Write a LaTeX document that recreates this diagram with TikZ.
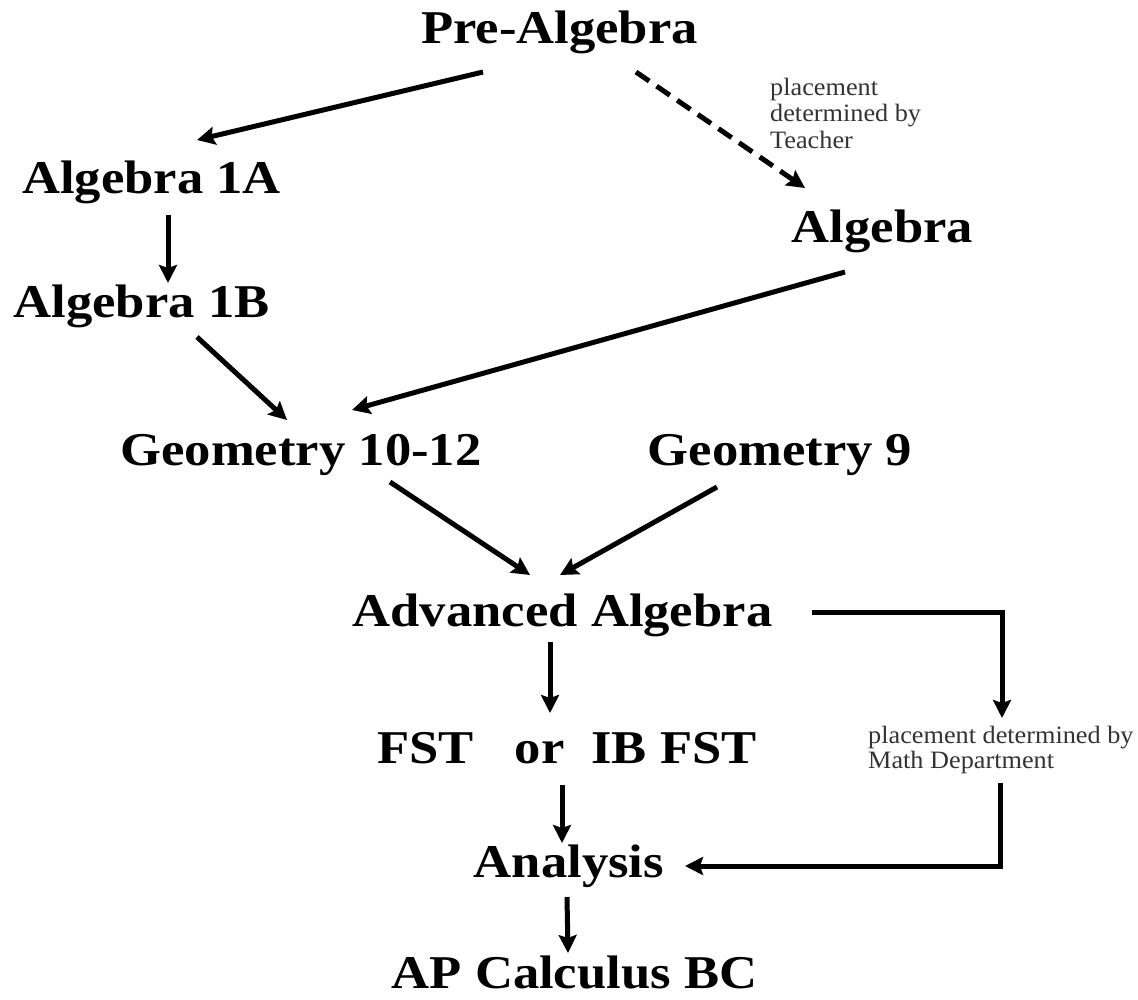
\documentclass[tikz,border=0pt]{standalone}
\usepackage{fontspec}
\setmainfont{Liberation Serif}[FakeStretch=1.12]
\newfontfamily\notefont{Liberation Serif}[FakeStretch=1.05]
\usetikzlibrary{arrows.meta,calc}
\begin{document}
\begin{tikzpicture}[x=1pt,y=-1pt,
    course/.style={inner sep=0pt,anchor=base,font=\fontsize{47}{50}\selectfont\bfseries},
    note/.style={inner sep=0pt,anchor=base west,align=left,text=black!80,
      font=\notefont\fontsize{25}{26.5}\selectfont},
    arr/.style={line width=5pt,-{Stealth[length=18pt,width=18pt,inset=3pt]}},
    dasharr/.style={arr,dash pattern=on 16pt off 9pt}]
    \useasboundingbox (0,0) rectangle (1138,999);
    % courses
    \node[course] (pre) at (559.5,43) {Pre-Algebra};
    \node[course] (a1a) at (151.5,193) {Algebra 1A};
    \node[course] (alg) at (882.5,242) {Algebra};
    \node[course] (a1b) at (141.5,317) {Algebra 1B};
    \node[course] (g1012) at (301,465) {Geometry 10-12};
    \node[course] (g9) at (780,465) {Geometry 9};
    \node[course] (adv) at (562.5,626) {Advanced Algebra};
    \node[course,anchor=base west] (fst) at (377,763) {FST\hspace{41pt}or\hspace{27pt}IB FST};
    \node[course] (ana) at (569,877) {Analysis};
    \node[course] (apc) at (574.5,988) {AP Calculus BC};
    % notes (base is the last line)
    \node[note] (tnote) at (770,148) {placement\\determined by\\Teacher};
    \node[note,font=\notefont\fontsize{25}{25}\selectfont] (mnote) at (868,768)
      {placement determined by\\Math Department};
    % arrows
    \draw[arr] ($(pre.base)+(-76.5,29)$) -- ($(a1a.base)+(45.5,-53)$);
    \draw[dasharr] ($(pre.base)+(76.5,29)$) -- ($(alg.base)+(-77.5,-54)$);
    \draw[arr] ($(a1a.base)+(16.5,22)$) -- ($(a1b.base)+(26.5,-34)$);
    \draw[arr] ($(a1b.base)+(55.5,20)$) -- ($(g1012.base)+(-14,-45)$);
    \draw[arr] ($(alg.base)+(-37.5,30)$) -- ($(g1012.base)+(51,-55)$);
    \draw[arr] ($(g1012.base)+(89,17)$) -- ($(adv.base)+(-32.5,-51)$);
    \draw[arr] ($(g9.base)+(-63,22)$) -- ($(adv.base)+(-2.5,-51)$);
    \draw[arr] ($(adv.base)+(-12.5,16)$) -- ($(fst.base west)+(173,-50)$);
    \draw[arr] ($(adv.base)+(249.5,-14)$) -| ($(mnote.base west)+(134,-50)$);
    \draw[arr] ($(fst.base west)+(185,22)$) -- ($(ana.base)+(-7,-34)$);
    \draw[arr] ($(mnote.base west)+(132,15)$) |- ($(ana.base)+(116,-11)$);
    \draw[arr] ($(ana.base)+(-2,20)$) -- ($(apc.base)+(-6.5,-35)$);
\end{tikzpicture}
\end{document}
